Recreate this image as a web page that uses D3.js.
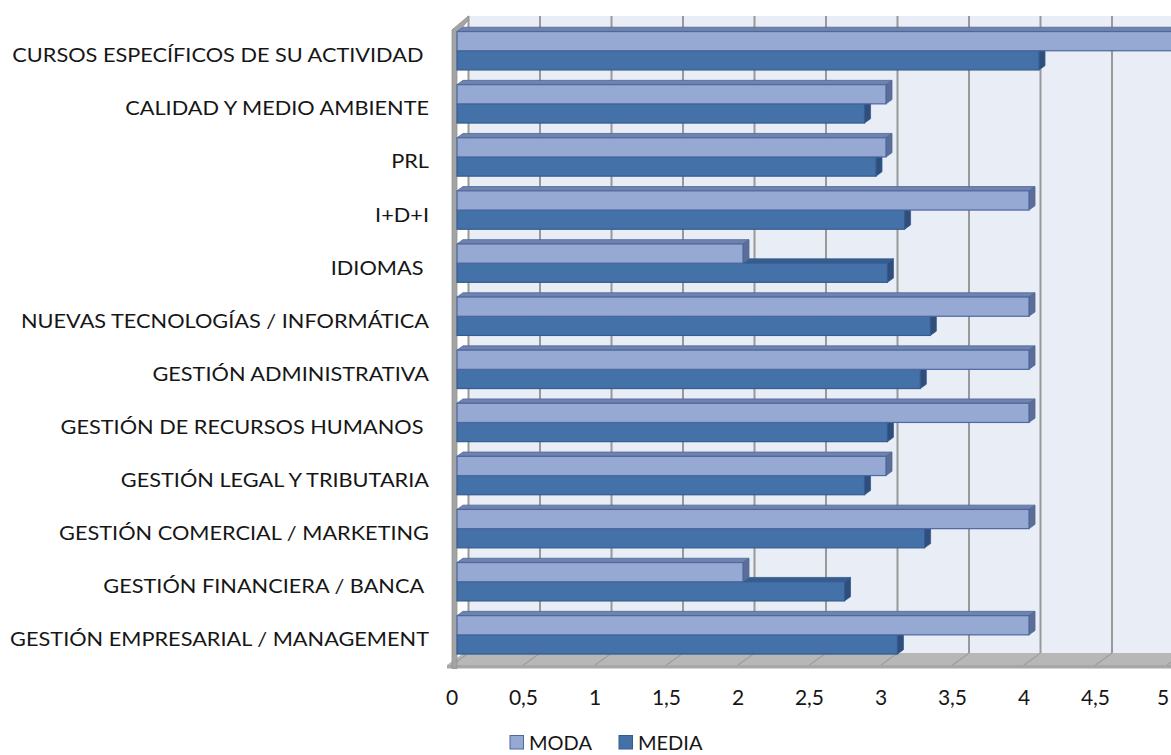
<!DOCTYPE html>
<html>
<head>
<meta charset="utf-8">
<script src="https://cdn.jsdelivr.net/npm/d3@7"></script>
<style>
  html, body { margin: 0; padding: 0; background: #ffffff; }
  svg { display: block; }
  text { font-family: Lato, "Open Sans", sans-serif; fill: #161616; }
</style>
</head>
<body>
<svg id="chart" width="1171" height="755"></svg>
<script>
// Training topics (top to bottom) with the mode and mean score of each
const categories = [
  "CURSOS ESPECÍFICOS DE SU ACTIVIDAD ",
  "CALIDAD Y MEDIO AMBIENTE",
  "PRL",
  "I+D+I",
  "IDIOMAS ",
  "NUEVAS TECNOLOGÍAS / INFORMÁTICA",
  "GESTIÓN ADMINISTRATIVA",
  "GESTIÓN DE RECURSOS HUMANOS ",
  "GESTIÓN LEGAL Y TRIBUTARIA",
  "GESTIÓN COMERCIAL / MARKETING",
  "GESTIÓN FINANCIERA / BANCA ",
  "GESTIÓN EMPRESARIAL / MANAGEMENT"
];
const moda  = [5, 3, 3, 4, 2, 4, 4, 4, 3, 4, 2, 4];
const media = [4.07, 2.85, 2.93, 3.13, 3.01, 3.31, 3.24, 3.01, 2.85, 3.27, 2.71, 3.08];
const seriesNames = ["MODA", "MEDIA"];
const tickValues = [0, 0.5, 1, 1.5, 2, 2.5, 3, 3.5, 4, 4.5, 5];
const tickLabels = ["0", "0,5", "1", "1,5", "2", "2,5", "3", "3,5", "4", "4,5", "5"];

const svg = d3.select("#chart");

// Value scale on the plane of the bar fronts
const x = d3.scaleLinear().domain([0, 5]).range([457, 1172]);
// Category bands on the same plane
const y = d3.scaleBand().domain(categories).range([24.2, 661.4])
  .paddingInner(0.277).paddingOuter(0.1385);
const ySeries = d3.scaleBand().domain(seriesNames).range([0, y.bandwidth()]);

// Oblique depth: d pixels back moves right by d and up by d*K
const K = 0.72;
const D_FRONT = -5, D_BAR = 6, D_BACK = 11.5;
const P = (px, py, d) => [px + d, py - d * K];
const poly = pts => pts.map(p => p.join(",")).join(" ");

const yTop = y.range()[0], yBot = y.range()[1];
const W = 1171;

const colors = {
  MODA:  { front: "#95a9d3", top: "#7083ab", side: "#5d6e94", stroke: "#4d67a0" },
  MEDIA: { front: "#4471a8", top: "#375d8e", side: "#2f4e7b", stroke: "#355c90" }
};

// Back wall
svg.append("polygon")
  .attr("points", poly([P(x(0), yTop, D_BACK), P(W + 40, yTop, D_BACK), P(W + 40, yBot, D_BACK), P(x(0), yBot, D_BACK)]))
  .attr("fill", "#e9edf5");

// Gridlines on the back wall
svg.append("g").selectAll("line").data(tickValues).join("line")
  .attr("x1", d => P(x(d), yTop, D_BACK)[0])
  .attr("x2", d => P(x(d), yBot, D_BACK)[0])
  .attr("y1", P(0, yTop, D_BACK)[1])
  .attr("y2", P(0, yBot, D_BACK)[1])
  .attr("stroke", "#999999").attr("stroke-width", 2);

// Floor: top surface and front edge
const floorFrontY = P(0, yBot, D_FRONT)[1];
svg.append("polygon")
  .attr("points", poly([P(x(0) - 5, yBot, D_FRONT), P(W + 40, yBot, D_FRONT), P(W + 40, yBot, D_BACK), P(x(0) - 5, yBot, D_BACK)]))
  .attr("fill", "#b7b7b7");
svg.append("rect")
  .attr("x", P(x(0) - 5, yBot, D_FRONT)[0]).attr("y", floorFrontY)
  .attr("width", W).attr("height", 3.5)
  .attr("fill", "#a7a7a7");

// Gridlines across the floor
svg.append("g").selectAll("line").data(tickValues).join("line")
  .attr("x1", d => P(x(d), yBot, D_BACK)[0])
  .attr("y1", P(0, yBot, D_BACK)[1])
  .attr("x2", d => P(x(d), yBot, D_FRONT)[0])
  .attr("y2", floorFrontY)
  .attr("stroke", "#9c9c9c").attr("stroke-width", 1.2);

// Left wall: narrow edge strip with a slanted cap towards the back
const wl = P(x(0), yTop, D_FRONT);
const wb = P(x(0), yTop, D_BACK);
svg.append("polygon")
  .attr("points", poly([
    [wl[0], wl[1] + 2], [wb[0], wb[1]], [wb[0], wb[1] + 4], [wl[0] + 5, wl[1] + 6],
    [wl[0] + 5, floorFrontY + 3.5], [wl[0], floorFrontY + 3.5]
  ]))
  .attr("fill", "#a4a4a4").attr("stroke", "#929292").attr("stroke-width", 0.8);

// 3D bars: mean drawn first so the mode bar above covers its top face
const rows = categories.map((c, i) => ({ cat: c, MODA: moda[i], MEDIA: media[i] }));
const barLayer = svg.append("g");
rows.forEach(r => {
  ["MEDIA", "MODA"].forEach(s => {
    const c = colors[s];
    const x0 = x(0), x1 = x(r[s]);
    const y0 = y(r.cat) + ySeries(s), y1 = y0 + ySeries.bandwidth();
    const g = barLayer.append("g");
    g.append("polygon")
      .attr("points", poly([P(x0, y0, 0), P(x0, y0, D_BAR), P(x1, y0, D_BAR), P(x1, y0, 0)]))
      .attr("fill", c.top).attr("stroke", c.stroke).attr("stroke-width", 0.8).attr("stroke-linejoin", "round");
    g.append("polygon")
      .attr("points", poly([P(x1, y0, 0), P(x1, y0, D_BAR), P(x1, y1, D_BAR), P(x1, y1, 0)]))
      .attr("fill", c.side).attr("stroke", c.stroke).attr("stroke-width", 0.8).attr("stroke-linejoin", "round");
    g.append("rect")
      .attr("x", x0).attr("y", y0).attr("width", x1 - x0).attr("height", y1 - y0)
      .attr("fill", c.front).attr("stroke", c.stroke).attr("stroke-width", 1.2);
  });
});

// Category labels, right aligned beside the chart
const labelG = svg.append("g");
const labels = labelG.selectAll("text").data(categories).join("text")
  .attr("xml:space", "preserve")
  .style("white-space", "pre")
  .attr("text-anchor", "end")
  .attr("font-size", 20)
  .text(d => d);
const refLabel = labels.filter(d => d === "GESTIÓN EMPRESARIAL / MANAGEMENT").node();
const sx = 419 / refLabel.getComputedTextLength();
labels.attr("transform", d => `translate(429, ${y(d) + y.bandwidth() / 2 + 11.5}) scale(${sx}, 1)`);

// Value axis labels along the front edge of the floor
svg.append("g").selectAll("text").data(tickValues).join("text")
  .attr("x", d => Math.min(P(x(d), 0, D_FRONT)[0], 1163))
  .attr("y", 705)
  .attr("text-anchor", "middle")
  .attr("font-size", 21)
  .text((d, i) => tickLabels[i]);

// Legend
const legend = svg.append("g");
const legendX = [510, 619];
seriesNames.forEach((s, i) => {
  legend.append("rect")
    .attr("x", legendX[i]).attr("y", 735.5).attr("width", 13.5).attr("height", 13.5)
    .attr("fill", colors[s].front).attr("stroke", colors[s].stroke).attr("stroke-width", 1);
  legend.append("text")
    .attr("x", legendX[i] + 19).attr("y", 750)
    .attr("font-size", 20)
    .text(s);
});
</script>
</body>
</html>
